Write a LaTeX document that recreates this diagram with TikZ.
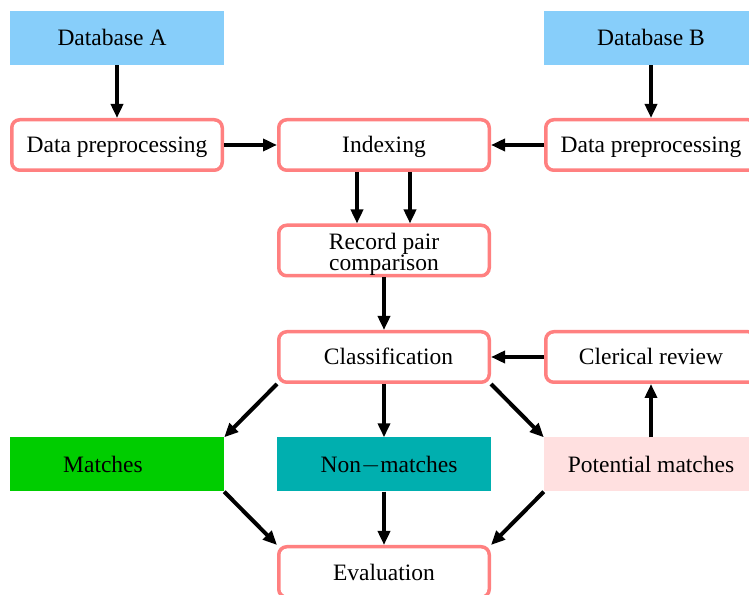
\documentclass[tikz,border=0pt]{standalone}
\usepackage{fontspec}
\setmainfont{Liberation Serif}
\usetikzlibrary{arrows.meta}
\definecolor{dbblue}{HTML}{87CEFA}
\definecolor{boxred}{HTML}{FF8080}
\definecolor{matchgreen}{HTML}{00CD00}
\definecolor{nonteal}{HTML}{00AFAF}
\definecolor{potpink}{HTML}{FFE0E0}
\tikzset{
  txt/.style={font=\fontsize{23.5}{19.5}\selectfont, align=center, text=black,
              text height=16pt, text depth=0pt},
  filledbox/.style={txt, rectangle, minimum width=214pt, minimum height=54pt, inner sep=0pt},
  procbox/.style={txt, rectangle, rounded corners=8pt, draw=boxred, line width=3.5pt, fill=white,
                  minimum width=210.5pt, minimum height=50.5pt, inner sep=0pt},
  flow/.style={line width=4pt, -{Triangle[length=14pt,width=12pt]}},
}
\begin{document}
\begin{tikzpicture}[x=1pt,y=1pt]
\useasboundingbox (0,0) rectangle (749,594);
\clip (0,0) rectangle (749,594);
\node[filledbox, fill=dbblue] (dbA) at (117,556) {Database A\hspace{10pt}};
\node[filledbox, fill=dbblue] (dbB) at (651,556) {Database B};
\node[procbox] (ppA) at (117,449) {Data preprocessing};
\node[procbox] (idx) at (384,449) {Indexing};
\node[procbox] (ppB) at (651,449) {Data preprocessing};
\node[procbox, text height=41pt, text depth=0pt] (rpc) at (384,343.5) {Record pair\\comparison};
\node[procbox] (cls) at (384,237) {\hspace{9pt}Classification};
\node[procbox] (cler) at (651,237) {Clerical review};
\node[filledbox, fill=matchgreen] (mat) at (117,129.5) {Matches\hspace{28pt}};
\node[filledbox, fill=nonteal] (non) at (384,129.5) {\hspace{10pt}Non$-$matches};
\node[filledbox, fill=potpink] (pot) at (651,129.5) {Potential matches};
\node[procbox] (ev) at (384,22) {Evaluation};

\draw[flow] (dbA) -- (ppA);
\draw[flow] (dbB) -- (ppB);
\draw[flow] (ppA) -- (idx);
\draw[flow] (ppB) -- (idx);
\draw[flow] ([xshift=-27pt]idx.south) -- ([xshift=-27pt]rpc.north);
\draw[flow] ([xshift=26pt]idx.south) -- ([xshift=26pt]rpc.north);
\draw[flow] (rpc) -- (cls);
\draw[flow] (cler) -- (cls);
\draw[flow] (cls.south west) -- (mat.north east);
\draw[flow] (cls) -- (non);
\draw[flow] (cls.south east) -- (pot.north west);
\draw[flow] (pot) -- (cler);
\draw[flow] (mat.south east) -- (ev.north west);
\draw[flow] (non) -- (ev);
\draw[flow] (pot.south west) -- (ev.north east);
\end{tikzpicture}
\end{document}
